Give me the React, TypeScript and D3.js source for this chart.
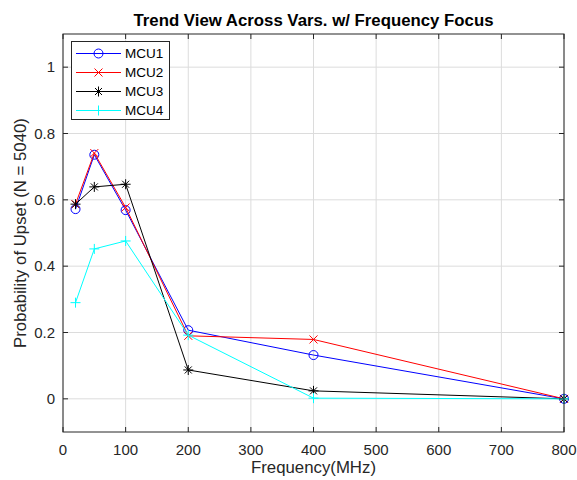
import { useMemo } from "react";
import * as d3 from "d3";

const freqs = [20, 50, 100, 200, 400, 800];
const mcu1 = [0.572, 0.736, 0.569, 0.207, 0.132, 0.0];
const mcu2 = [0.587, 0.741, 0.577, 0.19, 0.179, 0.0];
const mcu3 = [0.587, 0.639, 0.647, 0.087, 0.024, 0.0];
const mcu4 = [0.29, 0.452, 0.476, 0.192, 0.002, 0.0];
const seriesNames = ["MCU1", "MCU2", "MCU3", "MCU4"];
const xTicks = [0, 100, 200, 300, 400, 500, 600, 700, 800];
const yTicks = [0, 0.2, 0.4, 0.6, 0.8, 1];

const seriesColors = ["#0000ff", "#ff0000", "#000000", "#00ffff"];
const markerKinds = ["circle", "cross", "star", "plus"];

const W = 577;
const H = 480;
const margin = { top: 34, right: 13, bottom: 48, left: 63 };
const FONT = "'Liberation Sans', Arial, Helvetica, sans-serif";
const AXIS = "#262626";

function Marker({ kind, x, y, color }: { kind: string; x: number; y: number; color: string }) {
  const s = 4;
  if (kind === "circle")
    return <circle cx={x} cy={y} r={4.5} fill="none" stroke={color} strokeWidth={1} />;
  if (kind === "cross")
    return (
      <path d={`M${x - s},${y - s}L${x + s},${y + s}M${x - s},${y + s}L${x + s},${y - s}`} stroke={color} strokeWidth={1} />
    );
  if (kind === "plus")
    return (
      <path d={`M${x - 5},${y}L${x + 5},${y}M${x},${y - 5}L${x},${y + 5}`} stroke={color} strokeWidth={1} />
    );
  // star = plus + cross
  return (
    <path
      d={`M${x - 5},${y}L${x + 5},${y}M${x},${y - 5}L${x},${y + 5}M${x - 3.5},${y - 3.5}L${x + 3.5},${y + 3.5}M${x - 3.5},${y + 3.5}L${x + 3.5},${y - 3.5}`}
      stroke={color}
      strokeWidth={1}
    />
  );
}

const App = () => {
  const { x, y, series } = useMemo(() => {
    const x = d3.scaleLinear().domain([0, 800]).range([margin.left, W - margin.right]);
    const y = d3.scaleLinear().domain([-0.1, 1.1]).range([H - margin.bottom, margin.top]);
    const series = [mcu1, mcu2, mcu3, mcu4].map((vals, i) => ({
      name: seriesNames[i],
      color: seriesColors[i],
      kind: markerKinds[i],
      points: vals.map((v, j) => ({ f: freqs[j], v })),
    }));
    return { x, y, series };
  }, []);

  const line = d3
    .line<{ f: number; v: number }>()
    .x((d) => x(d.f))
    .y((d) => y(d.v));

  const x0 = margin.left;
  const x1 = W - margin.right;
  const y0 = H - margin.bottom;
  const y1 = margin.top;
  const tick = 5;

  return (
    <div style={{ position: "absolute", left: 0, top: 0 }}>
      <svg width={W} height={H} style={{ display: "block", background: "#fff" }} fontFamily={FONT}>
        <rect x={x0} y={y1} width={x1 - x0} height={y0 - y1} fill="#fff" />
        {/* grid */}
        <g stroke="#dcdcdc" strokeWidth={1}>
          {xTicks.map((t) => (
            <line key={"gx" + t} x1={x(t)} x2={x(t)} y1={y0} y2={y1} />
          ))}
          {yTicks.map((t) => (
            <line key={"gy" + t} x1={x0} x2={x1} y1={y(t)} y2={y(t)} />
          ))}
        </g>
        {/* series */}
        {series.map((s) => (
          <g key={s.name}>
            <path d={line(s.points) || ""} fill="none" stroke={s.color} strokeWidth={1} />
            {s.points.map((p, j) => (
              <Marker key={j} kind={s.kind} x={x(p.f)} y={y(p.v)} color={s.color} />
            ))}
          </g>
        ))}
        {/* axes box */}
        <rect x={x0} y={y1} width={x1 - x0} height={y0 - y1} fill="none" stroke={AXIS} strokeWidth={1} />
        <g stroke={AXIS} strokeWidth={1}>
          {xTicks.map((t) => (
            <g key={"tx" + t}>
              <line x1={x(t)} x2={x(t)} y1={y0} y2={y0 - tick} />
              <line x1={x(t)} x2={x(t)} y1={y1} y2={y1 + tick} />
            </g>
          ))}
          {yTicks.map((t) => (
            <g key={"ty" + t}>
              <line x1={x0} x2={x0 + tick} y1={y(t)} y2={y(t)} />
              <line x1={x1} x2={x1 - tick} y1={y(t)} y2={y(t)} />
            </g>
          ))}
        </g>
        <g fill={AXIS} fontSize={15}>
          {xTicks.map((t) => (
            <text key={"lx" + t} x={x(t)} y={y0 + 23} textAnchor="middle">
              {t}
            </text>
          ))}
          {yTicks.map((t) => (
            <text key={"ly" + t} x={x0 - 8} y={y(t) + 5} textAnchor="end">
              {d3.format("~g")(t)}
            </text>
          ))}
        </g>
        <text x={(x0 + x1) / 2} y={473} textAnchor="middle" fontSize={16.8} fill={AXIS}>
          Frequency(MHz)
        </text>
        <text
          transform={`translate(26,${(y0 + y1) / 2}) rotate(-90)`}
          textAnchor="middle"
          fontSize={16.8}
          fill={AXIS}
        >
          Probability of Upset (N = 5040)
        </text>
        <text x={(x0 + x1) / 2} y={26} textAnchor="middle" fontSize={16.8} fontWeight="bold" fill="#000">
          Trend View Across Vars. w/ Frequency Focus
        </text>
        {/* legend */}
        <g>
          <rect x={71.5} y={41.5} width={98} height={78} fill="#fff" stroke={AXIS} strokeWidth={1} />
          {series.map((s, i) => {
            const ly = 53.5 + i * 19;
            return (
              <g key={"lg" + s.name}>
                <line x1={76} x2={121} y1={ly} y2={ly} stroke={s.color} strokeWidth={1} />
                <Marker kind={s.kind} x={98.5} y={ly} color={s.color} />
                <text x={125} y={ly + 4.8} fontSize={13.5} fill="#000">
                  {s.name}
                </text>
              </g>
            );
          })}
        </g>
      </svg>
    </div>
  );
};

export default App;
